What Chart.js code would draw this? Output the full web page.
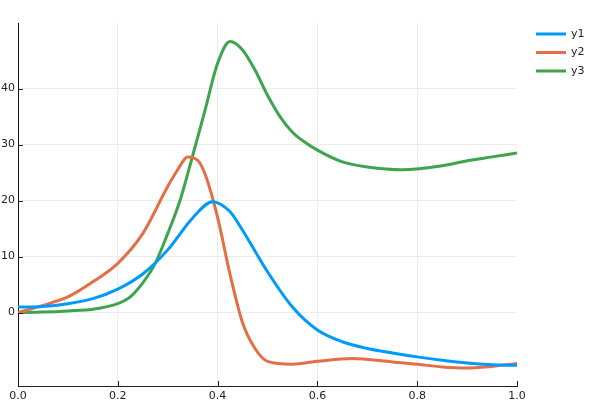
<!DOCTYPE html>
<html lang="en">
<head>
<meta charset="UTF-8">
<title>y1 y2 y3</title>
<script src="https://cdn.jsdelivr.net/npm/chart.js"></script>
<style>
  html, body { margin: 0; padding: 0; background: #fff; }
  #wrap { width: 600px; height: 400px; }
</style>
</head>
<body>
<div id="wrap"><canvas id="plot"></canvas></div>
<script>
// values
const y1X = [0, 0.05, 0.1, 0.15, 0.2, 0.25, 0.3, 0.35, 0.39, 0.425, 0.45, 0.5, 0.55, 0.6, 0.65, 0.7, 0.75, 0.8, 0.85, 0.9, 0.95, 1.0];
const y1Y = [1.0, 1.1, 1.6, 2.5, 4.2, 6.9, 11.2, 16.9, 19.8, 18.0, 14.7, 7.3, 1.0, -3.1, -5.2, -6.4, -7.2, -7.9, -8.5, -9.0, -9.3, -9.4];

const y2X = [0, 0.05, 0.1, 0.15, 0.2, 0.25, 0.3, 0.32, 0.34, 0.36, 0.375, 0.4, 0.425, 0.45, 0.475, 0.5, 0.55, 0.6, 0.67, 0.75, 0.8, 0.85, 0.9, 0.95, 1.0];
const y2Y = [0, 1.3, 2.8, 5.5, 8.8, 14.1, 22.5, 25.5, 27.8, 27.2, 24.7, 17.0, 6.8, -1.8, -6.4, -8.7, -9.2, -8.7, -8.2, -8.8, -9.2, -9.7, -9.9, -9.6, -9.1];

const y3X = [0, 0.05, 0.1, 0.15, 0.2, 0.225, 0.25, 0.275, 0.3, 0.325, 0.35, 0.375, 0.4, 0.425, 0.45, 0.475, 0.5, 0.525, 0.55, 0.575, 0.6, 0.65, 0.7, 0.77, 0.85, 0.9, 0.95, 1.0];
const y3Y = [0, 0.1, 0.3, 0.6, 1.6, 2.8, 5.3, 8.8, 14.1, 20.1, 28.0, 36.2, 44.5, 48.4, 46.9, 43.3, 38.8, 35.0, 32.2, 30.4, 29.0, 26.9, 26.0, 25.5, 26.2, 27.1, 27.8, 28.5];

const seriesNames = ['y1', 'y2', 'y3'];
const seriesColors = ['#009afa', '#e36f47', '#3ea44e'];
const xTicks = [0, 0.2, 0.4, 0.6, 0.8, 1.0];
const yTicks = [0, 10, 20, 30, 40];

const toPts = (xs, ys) => xs.map((x, i) => ({ x: x, y: ys[i] }));

// small inward tick marks + legend at the right
const extras = {
  id: 'extras',
  afterDraw(chart) {
    const ctx = chart.ctx;
    const a = chart.chartArea;
    const xs = chart.scales.x, ys = chart.scales.y;
    ctx.save();
    ctx.strokeStyle = '#222';
    ctx.lineWidth = 1;
    ctx.beginPath();
    yTicks.forEach(v => {
      const p = Math.round(ys.getPixelForValue(v)) + 0.5;
      ctx.moveTo(a.left, p); ctx.lineTo(a.left + 5, p);
    });
    xTicks.forEach(v => {
      const p = Math.round(xs.getPixelForValue(v)) + 0.5;
      ctx.moveTo(p, a.bottom); ctx.lineTo(p, a.bottom - 5);
    });
    ctx.stroke();

    ctx.font = '11px "DejaVu Sans", sans-serif';
    ctx.textBaseline = 'middle';
    ctx.fillStyle = '#222';
    chart.data.datasets.forEach((ds, i) => {
      const y = 34 + i * 18.5;
      ctx.strokeStyle = ds.borderColor;
      ctx.lineWidth = 3;
      ctx.beginPath();
      ctx.moveTo(536, y); ctx.lineTo(566, y);
      ctx.stroke();
      ctx.fillText(ds.label, 571, y);
    });
    ctx.restore();
  }
};

new Chart(document.getElementById('plot'), {
  type: 'line',
  data: {
    datasets: [
      { label: seriesNames[0], data: toPts(y1X, y1Y), borderColor: seriesColors[0] },
      { label: seriesNames[1], data: toPts(y2X, y2Y), borderColor: seriesColors[1] },
      { label: seriesNames[2], data: toPts(y3X, y3Y), borderColor: seriesColors[2] }
    ]
  },
  options: {
    responsive: true,
    maintainAspectRatio: false,
    animation: false,
    events: [],
    layout: { padding: { left: 0, top: 23, right: 83, bottom: 0 } },
    elements: {
      line: { borderWidth: 3, cubicInterpolationMode: 'monotone', fill: false },
      point: { radius: 0 }
    },
    plugins: { legend: { display: false }, tooltip: { enabled: false } },
    scales: {
      x: {
        type: 'linear',
        min: 0, max: 1,
        afterBuildTicks: s => { s.ticks = xTicks.map(v => ({ value: v })); },
        afterFit: s => { s.height = 14; },
        ticks: {
          padding: 4,
          color: '#222',
          font: { size: 11, family: '"DejaVu Sans", sans-serif' },
          callback: v => Number(v).toFixed(1),
          maxRotation: 0
        },
        grid: {
          drawTicks: false,
          color: c => (c.tick && (c.tick.value === 0 || c.tick.value === 1)) ? 'rgba(0,0,0,0)' : '#ececec',
          lineWidth: 1
        },
        border: { display: true, color: '#222', width: 1 }
      },
      y: {
        type: 'linear',
        min: -13.1, max: 51.7,
        afterBuildTicks: s => { s.ticks = yTicks.map(v => ({ value: v })); },
        afterFit: s => { s.width = 18; },
        ticks: {
          padding: 3,
          color: '#222',
          font: { size: 11, family: '"DejaVu Sans", sans-serif' }
        },
        grid: { drawTicks: false, color: '#ececec', lineWidth: 1 },
        border: { display: true, color: '#111', width: 1 }
      }
    }
  },
  plugins: [extras]
});
</script>
</body>
</html>
